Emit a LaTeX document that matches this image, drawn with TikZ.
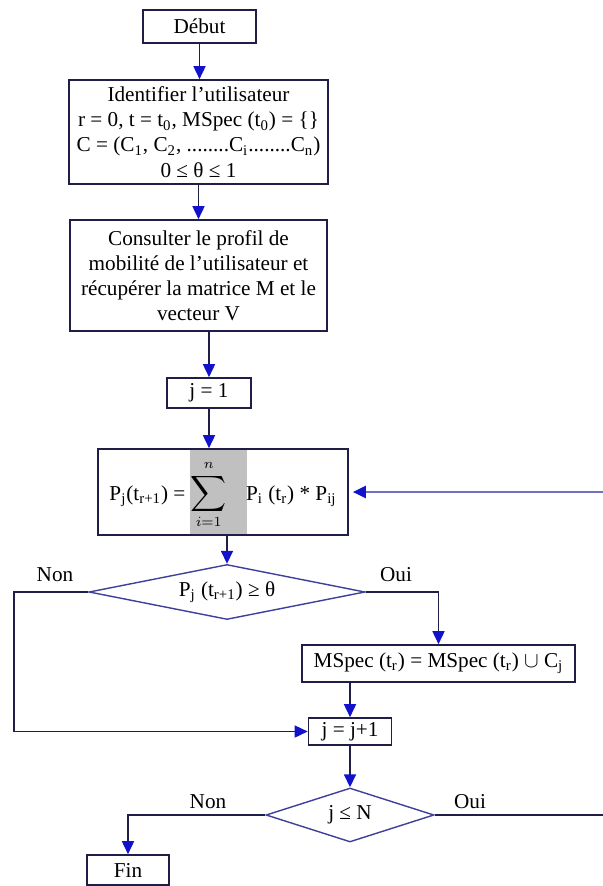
\documentclass[tikz,border=0pt]{standalone}
\usepackage{fontspec}
\setmainfont{Liberation Serif}
\usepackage{tikz}
\usetikzlibrary{shapes.geometric, arrows.meta, positioning, calc}
\definecolor{mynavy}{RGB}{30,30,72}
\definecolor{myblue}{RGB}{18,18,205}
\definecolor{mydiam}{RGB}{62,62,155}
\definecolor{myloop}{RGB}{112,112,195}
\definecolor{mygrey}{RGB}{192,192,192}
\tikzset{
  box/.style={rectangle, draw=mynavy, line width=0.8pt, inner sep=0pt,
    align=center, font=\fontsize{10.6}{12.6}\selectfont},
  decision/.style={diamond, draw=mydiam, line width=0.7pt, inner sep=0pt,
    shape aspect=5, font=\fontsize{10.6}{12.6}\selectfont},
  answer/.style={font=\fontsize{10.6}{12.6}\selectfont},
  arrow/.style={-{Triangle[length=6.5pt, width=6pt, color=myblue]},
    line width=0.8pt, color=mynavy},
  line/.style={line width=0.8pt, color=mynavy},
  loopline/.style={line width=1.3pt, color=myloop}
}
\begin{document}
\begin{tikzpicture}[x=0.5pt, y=-0.5pt]
  \useasboundingbox (0,0) rectangle (603,886);

  % Start and initialisation
  \node[box, minimum width=56.5pt, minimum height=16.5pt] (debut) at (199.5,26.5) {Début};
  \node[box, minimum width=129.5pt, minimum height=52pt] (ident) at (198.5,132)
    {Identifier l'utilisateur\\
     r = 0, t = t\textsubscript{0}, MSpec (t\textsubscript{0}) = \{\}\\
     C = (C\textsubscript{1}, C\textsubscript{2}, ........C\textsubscript{i}........C\textsubscript{n})\\
     0 ≤ θ ≤ 1};
  \node[box, minimum width=128.5pt, minimum height=55.5pt] (consult) at (198.5,275.5)
    {Consulter le profil de\\ mobilité de l'utilisateur et\\ récupérer la matrice M et le\\ vecteur V};
  \node[box, minimum width=42pt, minimum height=15pt] (jinit) at (209,393) {j = 1};

  % Probability computation (sum shaded)
  \fill[mygrey] (190,449) rectangle (247,535);
  \node[box, minimum width=125pt, minimum height=43pt] (calc) at (223,492)
    {P\textsubscript{j}(t\textsubscript{r+1}) = $\displaystyle\mathop{\scalebox{1.25}{$\displaystyle\sum$}}\limits_{i=1}^{n\vphantom{(}}$\hspace{7pt} P\textsubscript{i} (t\textsubscript{r}) * P\textsubscript{ij}};

  % First test
  \node[decision, minimum width=138pt, minimum height=27.5pt] (test1) at (227,592)
    {P\textsubscript{j} (t\textsubscript{r+1}) ≥ θ};
  \node[box, minimum width=136.5pt, minimum height=18.5pt] (mspec) at (438.5,663.5)
    {MSpec (t\textsubscript{r}) = MSpec (t\textsubscript{r}) $\cup$ C\textsubscript{j}};
  \node[box, minimum width=41.5pt, minimum height=13.5pt] (jinc) at (350,731.5) {j = j+1};

  % Second test
  \node[decision, minimum width=84pt, minimum height=27pt, shape aspect=3] (test2) at (350,815) {j ≤ N};
  \node[box, minimum width=41pt, minimum height=15pt] (fin) at (128,870) {Fin};

  \node[answer] (non1) at (55,575) {Non};
  \node[answer] (oui1) at (396,575) {Oui};
  \node[answer] (non2) at (208,802) {Non};
  \node[answer] (oui2) at (470,802) {Oui};

  % Connectors
  \draw[arrow] (debut.south) -- (debut.south |- ident.north);
  \draw[arrow] (ident.south) -- (consult.north);
  \draw[arrow] (consult.south -| jinit.north) -- (jinit.north);
  \draw[arrow] (jinit.south) -- (jinit.south |- calc.north);
  \draw[arrow] (calc.south -| test1.north) -- (test1.north);
  \coordinate (nonturn) at (14,592);
  \draw[arrow] (test1.west) -- (nonturn) |- (jinc.west);
  \draw[arrow] (test1.east) -| (mspec.north);
  \draw[arrow] (mspec.south -| jinc.north) -- (jinc.north);
  \draw[arrow] (jinc.south) -- (test2.north);
  \draw[arrow] (test2.west) -| (fin.north);

  % Loop back (turns outside the page)
  \coordinate (loopdown) at (612,815);
  \coordinate (loopup) at (calc.east -| loopdown);
  \draw[line] (test2.east) -- (loopdown);
  \draw[loopline] (loopdown) -- (loopup);
  \draw[loopline, -{Triangle[length=6.5pt, width=6pt, color=myblue]}] (loopup) -- ([xshift=2pt]calc.east);
\end{tikzpicture}
\end{document}
